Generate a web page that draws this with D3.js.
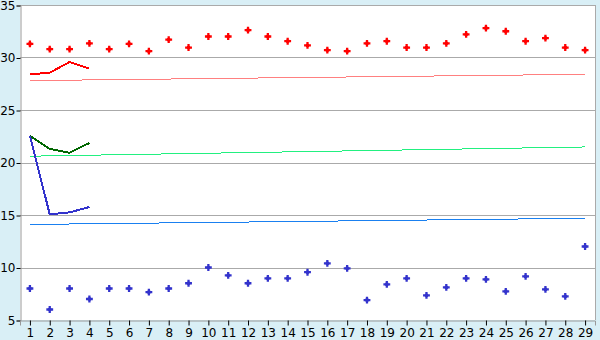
<!DOCTYPE html>
<html lang="en">
<head>
<meta charset="utf-8">
<title>Daily values</title>
<script src="https://cdn.jsdelivr.net/npm/d3@7"></script>
<style>
  body { margin: 0; background: #d9eff6; }
  svg { display: block; }
  .tick text { font-family: "DejaVu Sans", Verdana, sans-serif; font-size: 12px; fill: #000; }
</style>
</head>
<body>
<svg id="chart" width="600" height="340"></svg>
<script>
// day numbers along the bottom
var days = d3.range(1, 30);
var yTicks = [5, 10, 15, 20, 25, 30, 35];

// scattered daily readings
var redPoints = [31.3, 30.8, 30.8, 31.35, 30.8, 31.3, 30.6, 31.7, 30.95,
                 32.0, 32.0, 32.6, 32.0, 31.55, 31.15, 30.7, 30.6, 31.35, 31.55,
                 30.95, 30.95, 31.35, 32.2, 32.8, 32.5, 31.55, 31.85, 30.95, 30.7];
var bluePoints = [8.0, 6.0, 8.0, 7.0, 8.0, 8.0, 7.65, 8.0, 8.5,
                  10.0, 9.25, 8.5, 8.97, 8.97, 9.55, 10.4, 9.92, 6.9, 8.4,
                  8.97, 7.35, 8.1, 8.97, 8.87, 7.73, 9.15, 7.92, 7.25, 12.0];

// short lines over the first four days
var firstDays = [1, 2, 3, 4];
var redLine = [28.4, 28.55, 29.57, 28.94];
var greenLine = [22.55, 21.29, 20.93, 21.86];
var blueLine = [22.55, 15.06, 15.25, 15.76];

// thin trend lines, day 1 to day 29
var trendDays = [1, 29];
var pinkTrend = [27.8, 28.4];
var greenTrend = [20.6, 21.48];
var blueTrend = [14.1, 14.69];

var plotLeft = 20, plotRight = 595, plotTop = 5, plotBottom = 320;
var svg = d3.select("#chart");

var x = d3.scalePoint().domain(days).range([plotLeft, plotRight]).padding(0.5);
var y = d3.scaleLinear().domain([5, 35]).range([plotBottom, plotTop]);

// plot area
svg.append("rect")
  .attr("x", plotLeft).attr("y", plotTop)
  .attr("width", plotRight - plotLeft).attr("height", plotBottom - plotTop)
  .attr("fill", "#fff");

// grid
svg.append("g").selectAll("line")
  .data(yTicks.slice(1))
  .enter().append("line")
  .attr("x1", plotLeft).attr("x2", plotRight)
  .attr("y1", function(d){ return Math.round(y(d)) + 0.5; })
  .attr("y2", function(d){ return Math.round(y(d)) + 0.5; })
  .attr("stroke", "#aaa");

// right border
svg.append("line")
  .attr("x1", plotRight + 0.5).attr("x2", plotRight + 0.5)
  .attr("y1", plotTop).attr("y2", plotBottom)
  .attr("stroke", "#aaa");

// axes
var yAxis = svg.append("g")
  .attr("transform", "translate(" + (plotLeft + 0.5) + ",0.5)")
  .call(d3.axisLeft(y).tickValues(yTicks).tickSize(4).tickPadding(1));
var xAxis = svg.append("g")
  .attr("transform", "translate(0," + (plotBottom + 0.5) + ")")
  .call(d3.axisBottom(x).tickSize(5).tickPadding(3));
yAxis.select(".domain").attr("stroke", "#999");
xAxis.select(".domain").attr("stroke", "#999");
yAxis.selectAll(".tick line").attr("stroke", "#000");
xAxis.selectAll(".tick line").attr("stroke", "#000");

var line = d3.line()
  .x(function(d){ return x(d[0]); })
  .y(function(d){ return y(d[1]); });

function drawLine(xs, ys, color, width) {
  svg.append("path")
    .datum(d3.zip(xs, ys))
    .attr("d", line)
    .attr("fill", "none")
    .attr("stroke", color)
    .attr("stroke-width", width)
    .attr("shape-rendering", "crispEdges");
}

drawLine(trendDays, pinkTrend, "#ff8080", 1);
drawLine(trendDays, greenTrend, "#22f080", 1);
drawLine(trendDays, blueTrend, "#1a80f0", 1);

drawLine(firstDays, redLine, "#ff0000", 2);
drawLine(firstDays, greenLine, "#006600", 2);
drawLine(firstDays, blueLine, "#3333cc", 2);

// marker = thin cross plus a filled centre square
var cross = d3.symbol().type(d3.symbolCross).size(26);
var centre = d3.symbol().type(d3.symbolSquare).size(10);

function drawPoints(vals, color) {
  var g = svg.append("g").selectAll("g")
    .data(d3.zip(days, vals))
    .enter().append("g")
    .attr("transform", function(d){ return "translate(" + x(d[0]) + "," + y(d[1]) + ")"; })
    .attr("fill", color);
  g.append("path").attr("d", cross);
  g.append("path").attr("d", centre);
}

drawPoints(redPoints, "#ff0000");
drawPoints(bluePoints, "#3333cc");
</script>
</body>
</html>
